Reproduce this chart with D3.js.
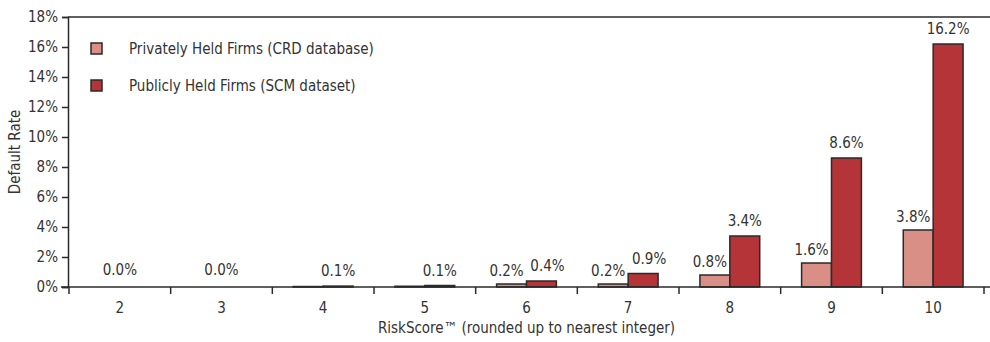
<!DOCTYPE html>
<html>
<head>
<meta charset="utf-8">
<script src="https://cdn.jsdelivr.net/npm/d3@7"></script>
<style>
  html, body { margin: 0; padding: 0; background: #fff; }
  svg { display: block; }
  text { font-family: "DejaVu Sans Condensed", "Liberation Sans Narrow", sans-serif; fill: #333; }
</style>
</head>
<body>
<svg id="chart" width="990" height="342"></svg>
<script>
// RiskScore buckets and default rates (percent)
const categories = ["2", "3", "4", "5", "6", "7", "8", "9", "10"];
const privateRates = [0.0, 0.0, 0.03, 0.05, 0.2, 0.2, 0.8, 1.6, 3.8];
const publicRates = [0.0, 0.0, 0.06, 0.1, 0.4, 0.9, 3.4, 8.6, 16.2];
const seriesNames = ["Privately Held Firms (CRD database)", "Publicly Held Firms (SCM dataset)"];
const seriesColors = ["#d98f86", "#b53437"];
const yTicks = [0, 2, 4, 6, 8, 10, 12, 14, 16, 18];

const svg = d3.select("#chart");
const W = 990, H = 342;
const plotLeft = 69, plotRight = 984, plotTop = 17, plotBottom = 287;
const fs = 15;

const x = d3.scaleBand().domain(categories).range([plotLeft, plotRight]).padding(0);
const x1 = d3.scaleBand().domain([0, 1]).range([0, x.bandwidth()]).paddingInner(0).paddingOuter(0.7);
const y = d3.scaleLinear().domain([0, 18]).range([plotBottom, plotTop]);

const stroke = "#2a2a2a";
const fmt = d3.format(".1f");
const fontFam = "DejaVu Sans Condensed, Liberation Sans Narrow, sans-serif";

// top frame line
svg.append("line")
  .attr("x1", plotLeft - 1).attr("x2", W).attr("y1", y(18)).attr("y2", y(18))
  .attr("stroke", stroke).attr("stroke-width", 1.5);

// bars
const series = [privateRates, publicRates];
series.forEach((vals, si) => {
  svg.append("g").selectAll("rect")
    .data(vals.map((v, i) => ({ v, c: categories[i] })))
    .join("rect")
    .attr("x", d => x(d.c) + x1(si))
    .attr("width", x1.bandwidth())
    .attr("y", d => y(d.v))
    .attr("height", d => y(0) - y(d.v))
    .attr("fill", seriesColors[si])
    .attr("stroke", stroke)
    .attr("stroke-width", d => d.v > 0 ? 1.5 : 0);
});

// value labels; public labels on the shortest bars are nudged right to clear the private ones
const labels = [];
categories.forEach((c, i) => {
  const pv = privateRates[i], qv = publicRates[i];
  if (pv === 0 && qv === 0) {
    labels.push({ x: x(c) + x.bandwidth() / 2, y: y(0) - 12, t: fmt(qv) + "%" });
    return;
  }
  if (i >= 4) {
    labels.push({ x: x(c) + x1(0) + x1.bandwidth() / 2 - 5, y: y(pv) - 8, t: fmt(pv) + "%" });
  }
  const crowd = i >= 4 && (y(pv) - y(qv)) < 18 ? 6 : 0;
  labels.push({ x: x(c) + x1(1) + x1.bandwidth() / 2 + crowd, y: y(qv) - 10, t: fmt(qv) + "%" });
});
svg.append("g").selectAll("text")
  .data(labels)
  .join("text")
  .attr("x", d => d.x).attr("y", d => d.y)
  .attr("text-anchor", "middle")
  .attr("font-size", fs)
  .text(d => d.t);

// y axis
const yAxis = svg.append("g")
  .attr("transform", `translate(${plotLeft - 1},0)`)
  .call(d3.axisLeft(y).tickValues(yTicks).tickFormat(d => d + "%").tickSize(6).tickPadding(4));
yAxis.select(".domain").attr("stroke", stroke).attr("stroke-width", 1.5);
yAxis.selectAll(".tick line").attr("stroke", stroke).attr("stroke-width", 1.5);
yAxis.selectAll(".tick text").attr("font-size", fs).attr("fill", "#333").attr("font-family", fontFam);

// x axis with ticks at band boundaries
const xAxisG = svg.append("g");
xAxisG.append("line")
  .attr("x1", plotLeft - 8).attr("x2", W).attr("y1", plotBottom).attr("y2", plotBottom)
  .attr("stroke", stroke).attr("stroke-width", 1.5);
xAxisG.selectAll("line.tick")
  .data(categories.concat(["end"]))
  .join("line")
  .attr("class", "tick")
  .attr("x1", (d, i) => plotLeft + i * x.step()).attr("x2", (d, i) => plotLeft + i * x.step())
  .attr("y1", plotBottom).attr("y2", plotBottom + 7)
  .attr("stroke", stroke).attr("stroke-width", 1.5);
xAxisG.selectAll("text")
  .data(categories)
  .join("text")
  .attr("x", d => x(d) + x.bandwidth() / 2)
  .attr("y", plotBottom + 26)
  .attr("text-anchor", "middle")
  .attr("font-size", fs)
  .text(d => d);

// axis titles
svg.append("text")
  .attr("x", (plotLeft + plotRight) / 2).attr("y", 333)
  .attr("text-anchor", "middle")
  .attr("font-size", fs)
  .text("RiskScore™ (rounded up to nearest integer)");
svg.append("text")
  .attr("transform", `translate(20,${(plotTop + plotBottom) / 2}) rotate(-90)`)
  .attr("text-anchor", "middle")
  .attr("font-size", fs)
  .text("Default Rate");

// legend
const legend = svg.append("g").selectAll("g")
  .data(seriesNames)
  .join("g")
  .attr("transform", (d, i) => `translate(91,${49 + i * 37})`);
legend.append("rect")
  .attr("x", 0).attr("y", -6).attr("width", 11).attr("height", 11)
  .attr("fill", (d, i) => seriesColors[i])
  .attr("stroke", stroke).attr("stroke-width", 1.5);
legend.append("text")
  .attr("x", 38).attr("y", 0).attr("dy", "0.35em")
  .attr("font-size", fs)
  .text(d => d);
</script>
</body>
</html>
